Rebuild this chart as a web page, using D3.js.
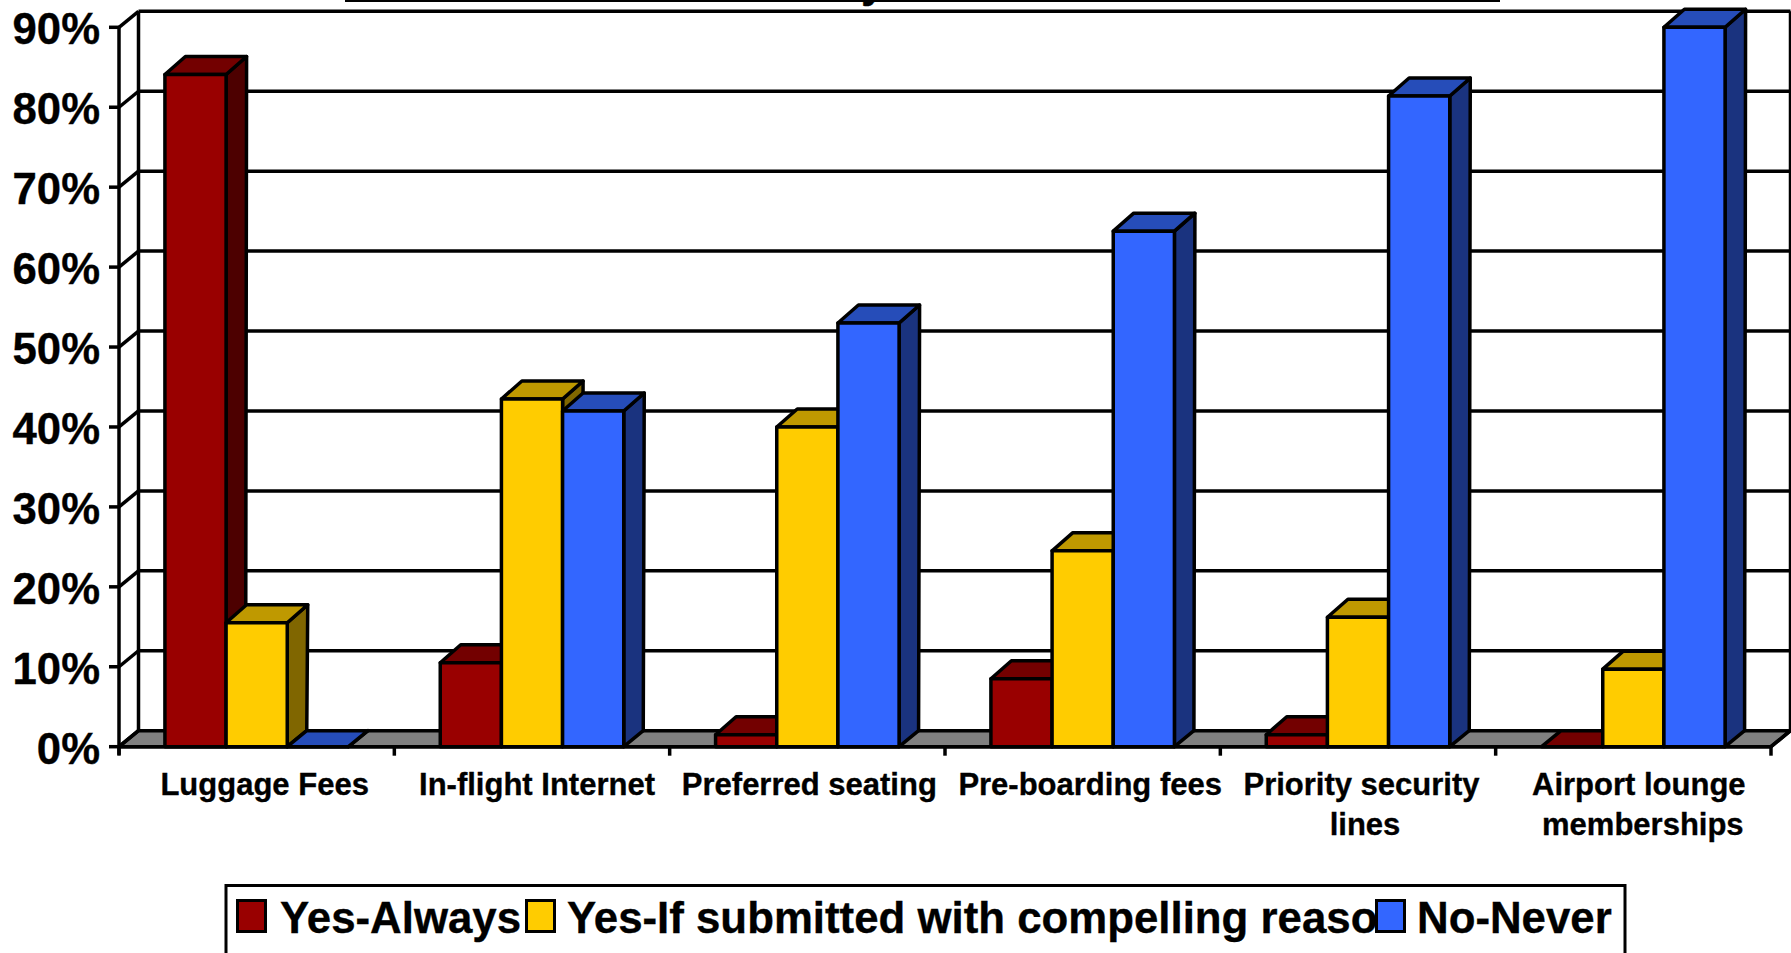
<!DOCTYPE html>
<html><head><meta charset="utf-8">
<script src="https://cdn.jsdelivr.net/npm/d3@7/dist/d3.min.js"></script>
<style>html,body{margin:0;padding:0;background:#fff;overflow:hidden}svg{display:block}text{font-family:"Liberation Sans",Arial,sans-serif;font-weight:bold;fill:#000;stroke:#000;stroke-width:.35px}</style>
</head><body><svg id="c" width="1791" height="953"></svg>
<script>
const categories=[["Luggage Fees"],["In-flight Internet"],["Preferred seating"],["Pre-boarding fees"],["Priority security","lines"],["Airport lounge","memberships"]];
const seriesNames=["Yes-Always","Yes-If submitted with compelling reaso","No-Never"];
const yesAlways=[84.1,10.5,1.5,8.5,1.5,0];
const yesIf=[15.5,43.5,40,24.5,16.2,9.7];
const noNever=[0,42,53,64.5,81.4,90];
const seriesValues=[yesAlways,yesIf,noNever];
const frontColors=["#990000","#ffcc00","#3366ff"];
const topColors=["#730000","#bf9900","#264db9"];
const sideColors=["#4d0000","#806600","#1a337f"];
const yTicks=[0,10,20,30,40,50,60,70,80,90];
const labelShift=[[8],[5],[2],[7.5],[3.5,7],[5.5,9.5]];

const svg=d3.select("#c");
const W=3.5, dx=19.5, dy=-16, barDx=20.5, barDy=-18;
const y=d3.scaleLinear().domain([0,90]).range([746.7,27.3]);
const x=d3.scaleBand().domain(d3.range(6)).range([119,1771]);
const xs=d3.scaleBand().domain([0,1,2]).range([0,183.5]);
const pad=(x.bandwidth()-183.5)/2;
const line=(a,b,c,d,w=W)=>svg.append("line").attr("x1",a).attr("y1",b).attr("x2",c).attr("y2",d).attr("stroke","#000").attr("stroke-width",w);
const poly=(p,f,w=W)=>svg.append("polygon").attr("points",p.map(q=>q.join(",")).join(" ")).attr("fill",f).attr("stroke","#000").attr("stroke-width",w).attr("stroke-linejoin","round");
const X0=x.range()[0],X1=x.range()[1];

// clipped title: only its underline and one descender remain in the frame
svg.append("text").attr("x",861).attr("y",-3.5).attr("font-size",44).text("y");
line(345,0,1500,0,4);

// floor
poly([[X0,y(0)],[X0+dx,y(0)+dy],[X1+dx,y(0)+dy],[X1,y(0)]],"#808080");
// walls
line(X0,y(0)+8,X0,y(90));
line(X0+dx,y(0)+dy,X0+dx,y(90)+dy);
line(X1+dx,y(0)+dy,X1+dx,y(90)+dy);
yTicks.forEach(t=>{
  const yy=y(t);
  if(t>0) line(X0+dx,yy+dy,X1+dx,yy+dy);
  line(X0,yy,X0+dx,yy+dy);
  line(X0-10,yy,X0,yy);
  svg.append("text").attr("x",100).attr("y",yy+17).attr("text-anchor","end").attr("font-size",43.7).text(t+"%");
});
// x ticks
d3.range(7).forEach(i=>{const xx=X0+i*x.step();line(xx,y(0),xx,y(0)+9);});
line(X0,y(0),X1,y(0));
line(X1,y(0),X1+dx,y(0)+dy);

// bars
d3.range(6).forEach(c=>{
  seriesValues.forEach((vals,s)=>{
    const v=vals[c],l=x(c)+pad+xs(s),r=l+xs.bandwidth(),t=y(v),b=y(0);
    const h=v>0?barDy:dy, w=v>0?barDx:dx;
    poly([[r,b],[r+dx,b+dy],[r+w,t+h],[r,t]],sideColors[s]);
    poly([[l,t],[l+w,t+h],[r+w,t+h],[r,t]],topColors[s]);
    if(v>0) poly([[l,t],[r,t],[r,b],[l,b]],frontColors[s]);
  });
  categories[c].forEach((t,i)=>{
    svg.append("text").attr("x",x(c)+x.bandwidth()/2+labelShift[c][i]).attr("y",795+i*40).attr("text-anchor","middle").attr("font-size",31).text(t);
  });
});

// legend
svg.append("rect").attr("x",226).attr("y",885.5).attr("width",1399).attr("height",80).attr("fill","#fff").attr("stroke","#000").attr("stroke-width",3);
const swX=[237.5,526.5,1376.5],txtX=[280,567,1417];
seriesNames.forEach((n,i)=>{
  svg.append("text").attr("x",txtX[i]).attr("y",933).attr("font-size",43.8).text(n);
  svg.append("rect").attr("x",swX[i]).attr("y",900.5).attr("width",28).attr("height",31).attr("fill",frontColors[i]).attr("stroke","#000").attr("stroke-width",3);
});
</script></body></html>
